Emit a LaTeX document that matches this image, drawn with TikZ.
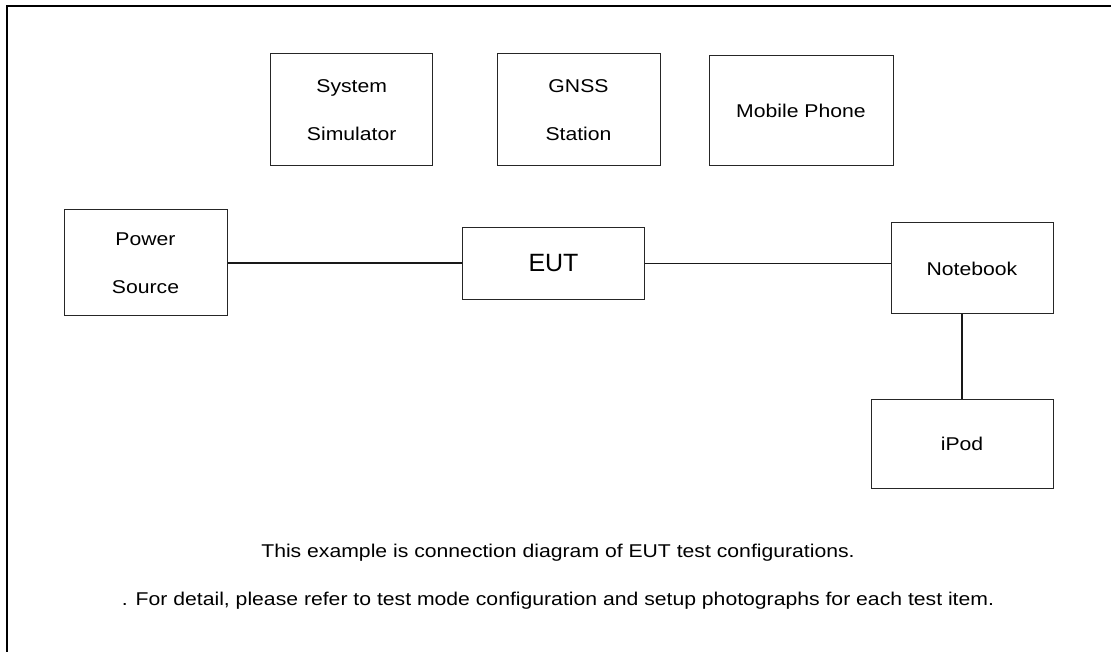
\documentclass[tikz,border=0pt]{standalone}
\usepackage{fontspec}
\setmainfont{Liberation Sans}[FakeStretch=1.145]
\newfontfamily\eutfont{Liberation Sans}
\begin{document}
\begin{tikzpicture}[x=1pt,y=-1pt,
  box/.style={draw=black!85, line width=1pt, inner sep=0pt, align=center,
    font={\fontsize{18.5}{47.5}\selectfont}},
  link/.style={draw=black!90, line width=1.1pt},
  note/.style={inner sep=0pt, font={\fontsize{18.5}{22}\selectfont}}]
\useasboundingbox (0,0) rectangle (1111,652);
\draw[line width=2.3pt] (7,652) -- (7,6.3) -- (1111,6.3);
\node[box, minimum width=162pt, minimum height=112pt] (sys) at (351.7,110) {System\\Simulator};
\node[box, minimum width=163pt, minimum height=112pt] (gnss) at (578.5,110) {GNSS\\Station};
\node[box, minimum width=184pt, minimum height=110pt] (mob) at (801,110.7) {Mobile Phone};
\node[box, minimum width=163pt, minimum height=106pt] (pow) at (145.5,263) {Power\\Source};
\node[box, minimum width=181.6pt, minimum height=71.6pt, font={\eutfont\fontsize{25}{30}\selectfont}] (eut) at (553.5,263.5) {EUT};
\node[box, minimum width=162pt, minimum height=91pt] (nb) at (972,268.5) {Notebook};
\node[box, minimum width=182pt, minimum height=89pt] (ipod) at (962,443.5) {iPod};
\draw[link] (pow.east) -- (pow.east -| eut.west);
\draw[link] (eut.east) -- (eut.east -| nb.west);
\draw[link] (ipod.north |- nb.south) -- (ipod.north);
\node[note] (n1) at (558,553) {This example is connection diagram of EUT test configurations.};
\node[note] (n2) at (558,601) {. For detail, please refer to test mode configuration and setup photographs for each test item.};
\end{tikzpicture}
\end{document}
